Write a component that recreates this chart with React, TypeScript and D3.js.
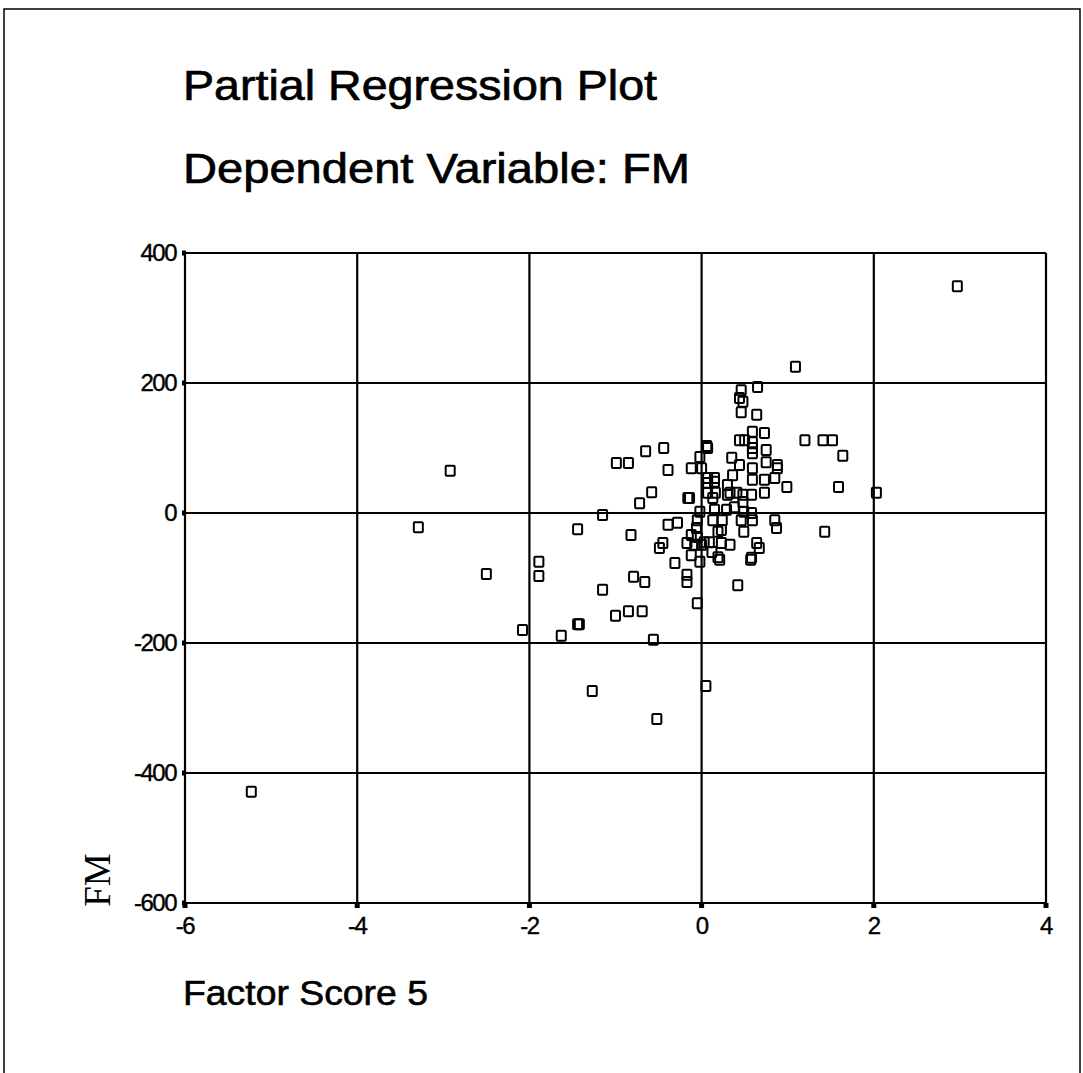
import React from "react";
import * as d3 from "d3";

const xTicks = [-6, -4, -2, 0, 2, 4];
const yTicks = [400, 200, 0, -200, -400, -600];
const title1 = "Partial Regression Plot";
const title2 = "Dependent Variable: FM";
const xLabel = "Factor Score 5";
const yLabel = "FM";

const factorScore = [
  2.97, 1.09, 0.65, 0.46, 0.44, 0.48, 0.46, 0.64, 0.59, 0.73,
  0.44, 0.5, 0.59, 0.59, 0.59, 0.75, 0.35, 0.44, 0.75, 0.88,
  1.2, 1.41, 1.52, 1.64, 1.59, 2.03, 1.43, 0.06, 0.07, -0.02,
  -0.12, 0.0, -0.39, -0.65, -0.44, -0.99, -0.85, -0.58, -0.72, -1.15,
  -0.16, -0.14, 0.07, 0.15, 0.07, 0.13, 0.3, 0.36, 0.33, 0.41,
  0.48, 0.58, 0.48, 0.49, 0.58, 0.46, 0.59, 0.49, 0.64, 0.67,
  0.58, 0.38, 0.85, 0.87, 0.73, 0.85, 0.99, 0.73, 0.59, 0.59,
  0.88, 0.3, -0.02, 0.15, 0.13, 0.29, 0.24, -0.39, -0.28, -0.06,
  -0.05, -0.12, -0.17, -0.45, -0.49, -0.08, 0.0, 0.09, 0.19, 0.23,
  0.33, -0.12, -0.02, 0.12, 0.19, 0.21, -0.31, -0.82, -0.79, -0.66,
  -1.15, -0.17, -0.17, 0.42, -0.05, -2.92, -3.29, -2.5, -1.89, -1.89,
  -1.44, -2.08, -1.63, -1.44, -1.42, -1.0, -0.85, -0.69, -0.56, -1.27,
  -0.52, 0.05, -5.23, 0.23, 0.03, 0.16, 0.07, 0.15, -0.05, 0.57
];

const fm = [
  349, 225, 194, 189, 177, 171, 155, 151, 125, 123,
  112, 112, 109, 100, 92, 97, 85, 74, 78, 74,
  112, 112, 112, 88, 40, 31, -29, 103, 100, 86,
  69, 69, 66, 95, 100, 77, 77, 32, 15, -3,
  23, 23, 54, 54, 31, 23, 43, 58, 31, 31,
  28, 28, 17, 2, 0, -11, -11, -29, -46, -54,
  -69, 9, -11, -23, 51, 54, 40, 31, 51, 69,
  69, 28, 2, 5, -11, 5, -11, -18, -15, -23,
  -37, -34, -46, -46, -54, -49, -49, -45, -29, -46,
  -49, -65, -75, -60, -68, -72, -77, -34, -98, -106,
  -118, -95, -106, -111, -139, 65, -22, -94, -75, -97,
  -25, -180, -189, -171, -171, -158, -151, -151, -195, -274,
  -317, -266, -429, -26, -45, 31, 46, 48, -11, -72
];

export default function App() {
  const W = 1083;
  const H = 1073;
  const left = 185, right = 1046, top = 253, bottom = 903;
  const x = d3.scaleLinear().domain([-6, 4]).range([left, right]);
  const y = d3.scaleLinear().domain([-600, 400]).range([bottom, top]);
  const pts = factorScore.map((v, i) => ({ x: v, y: fm[i] }));
  const font = "'Liberation Sans', Arial, sans-serif";
  return (
    <div style={{ position: "absolute", left: 0, top: 0 }}>
      <svg width={W} height={H} style={{ display: "block", background: "#fff" }}>
        <rect x={4} y={9} width={1076} height={1080} fill="none" stroke="#000" strokeWidth={1.5} />
        <text x={183} y={100} fontFamily={font} fontSize={42} stroke="#000" strokeWidth={0.7} textLength={474} lengthAdjust="spacingAndGlyphs">{title1}</text>
        <text x={183} y={183} fontFamily={font} fontSize={42} stroke="#000" strokeWidth={0.7} textLength={507} lengthAdjust="spacingAndGlyphs">{title2}</text>
        <text x={183} y={1005} fontFamily={font} fontSize={35} stroke="#000" strokeWidth={0.6} textLength={245} lengthAdjust="spacingAndGlyphs">{xLabel}</text>
        <text transform={`translate(110,880) rotate(-90)`} textAnchor="middle" fontFamily="'Liberation Serif', 'Times New Roman', serif" fontSize={37}>{yLabel}</text>
        {xTicks.map((t) => (
          <line key={"gx" + t} x1={x(t)} x2={x(t)} y1={top} y2={bottom} stroke="#000" strokeWidth={2.2} />
        ))}
        {yTicks.map((t) => (
          <line key={"gy" + t} x1={left} x2={right} y1={y(t)} y2={y(t)} stroke="#000" strokeWidth={2.2} />
        ))}
        {yTicks.map((t) => (
          <rect key={"ty" + t} x={left - 3} y={y(t) - 2.5} width={4} height={5} fill="#000" />
        ))}
        {xTicks.map((t) => (
          <rect key={"tx" + t} x={x(t) - 2.5} y={bottom} width={5} height={5} fill="#000" />
        ))}
        {yTicks.map((t) => (
          <text key={"ly" + t} x={left - 9} y={y(t) + 8} textAnchor="end" fontFamily={font} fontSize={24} letterSpacing={-1.5} stroke="#000" strokeWidth={0.4}>{t}</text>
        ))}
        {xTicks.map((t) => (
          <text key={"lx" + t} x={x(t)} y={934} textAnchor="middle" fontFamily={font} fontSize={24} letterSpacing={-1.5} stroke="#000" strokeWidth={0.4}>{t}</text>
        ))}
        {pts.map((p, i) => (
          <rect key={i} x={x(p.x) - 4.5} y={y(p.y) - 5} width={9} height={10} rx={1} fill="none" stroke="#000" strokeWidth={2} />
        ))}
      </svg>
    </div>
  );
}
